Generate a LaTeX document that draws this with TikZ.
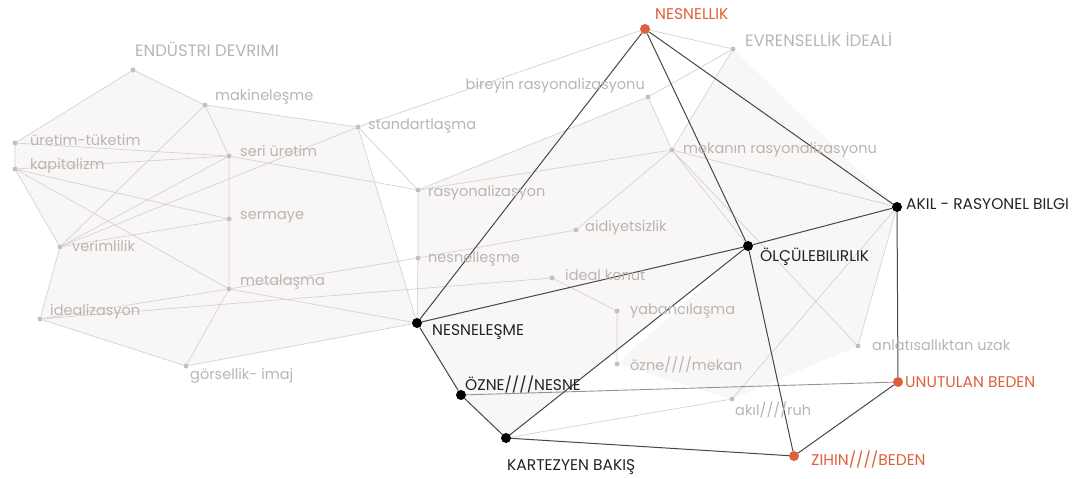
\documentclass[tikz,border=0pt]{standalone}
\usepackage{fontspec}
\setmainfont{Poppins}
\usetikzlibrary{positioning,backgrounds}
\definecolor{lgray}{RGB}{214,210,208}
\definecolor{dgray}{RGB}{196,192,190}
\definecolor{tgray}{RGB}{186,181,179}
\definecolor{dline}{RGB}{70,70,70}
\definecolor{mline}{RGB}{150,148,147}
\definecolor{rust}{RGB}{222,96,58}
\definecolor{dtext}{RGB}{35,35,35}
\definecolor{haze}{RGB}{248,247,246}
\begin{document}
\begin{tikzpicture}[x=1pt,y=-1pt,
  gdot/.style={circle,fill=dgray,inner sep=0pt,minimum size=5pt},
  bdot/.style={circle,fill=black,inner sep=0pt,minimum size=10pt},
  rdot/.style={circle,fill=rust,inner sep=0pt,minimum size=10pt},
  faint/.style={draw=lgray,line width=0.7pt},
  strong/.style={draw=dline,line width=1pt},
  gtext/.style={text=tgray,inner sep=0pt,anchor=west,font=\fontsize{14.5}{14.5}\selectfont},
  gcaps/.style={gtext,font=\fontsize{16.5}{16.5}\selectfont},
  btext/.style={text=dtext,inner sep=0pt,anchor=west,font=\fontsize{15.5}{15.5}\selectfont},
  rtext/.style={btext,text=rust}]
\useasboundingbox (0,0) rectangle (1082,479);
% gray net, left
\node[gdot] (end) at (133,70) {};
\node[gdot] (mak) at (205,105) {};
\node[gdot] (uret) at (15,143) {};
\node[gdot] (kap) at (15,169) {};
\node[gdot] (seri) at (229,156) {};
\node[gdot] (std) at (358,127) {};
\node[gdot] (serm) at (229,219) {};
\node[gdot] (ver) at (60,247) {};
\node[gdot] (meta) at (229,289) {};
\node[gdot] (ideal) at (40,319) {};
\node[gdot] (gors) at (186,366) {};
% gray net, middle and right
\node[gdot] (rasy) at (418,190) {};
\node[gdot] (nesl) at (418,258) {};
\node[gdot] (bir) at (648,97) {};
\node[gdot] (mek) at (672,150) {};
\node[gdot] (aid) at (576,230) {};
\node[gdot] (konut) at (552,278) {};
\node[gdot] (yab) at (617,311) {};
\node[gdot] (ozm) at (617,364) {};
\node[gdot] (ruh) at (732,399) {};
\node[gdot] (anl) at (858,346) {};
\node[gdot] (evr) at (733,49) {};
% main nodes
\node[rdot] (nsk) at (645,29) {};
\node[bdot] (akil) at (897,207) {};
\node[bdot] (olcu) at (748,246) {};
\node[bdot] (nes) at (417,323) {};
\node[bdot] (ozn) at (461,395) {};
\node[bdot] (kart) at (506,438) {};
\node[rdot] (unut) at (898,382) {};
\node[rdot] (zih) at (794,456) {};

% faint fills
\begin{scope}[on background layer]
\fill[haze] (uret.center) -- (end.center) -- (mak.center) -- (std.center) -- (nes.center)
  -- (gors.center) -- (ideal.center) -- (ver.center) -- (kap.center) -- cycle;
\fill[haze] (rasy.center) -- (bir.center) -- (mek.center) -- (olcu.center) -- (kart.center)
  -- (ozn.center) -- (nes.center) -- cycle;
\fill[haze] (evr.center) -- (akil.center) -- (anl.center) -- (ruh.center) -- (ozm.center)
  -- (olcu.center) -- (mek.center) -- cycle;
\end{scope}

% gray connectors
\draw[faint] (end) -- (uret) (end) -- (mak) (mak) -- (seri) (mak) -- (std) (mak) -- (ver)
  (uret) -- (kap) (uret) -- (seri) (kap) -- (seri) (kap) -- (serm) (kap) -- (ver) (kap) -- (meta)
  (seri) -- (serm) (serm) -- (meta) (seri) -- (ver) (serm) -- (ver) (seri) -- (rasy)
  (std) -- (rasy) (std) -- (nes) (std) -- (nsk) (std) -- (ver)
  (ver) -- (ideal) (ideal) -- (gors) (ideal) -- (meta) (ideal) -- (konut)
  (meta) -- (gors) (meta) -- (nes) (meta) -- (nesl) (gors) -- (nes)
  (rasy) -- (nesl) (nesl) -- (nes) (rasy) -- (bir) (rasy) -- (mek)
  (nsk) -- (evr) (bir) -- (evr) (bir) -- (mek) (mek) -- (evr)
  (mek) -- (aid) (mek) -- (olcu) (mek) -- (akil) (mek) -- (anl)
  (aid) -- (nesl) (konut) -- (yab) (yab) -- (ozm)
  (kart) -- (ruh) (ruh) -- (akil) (akil) -- (anl);
\draw[draw=mline,line width=0.9pt] (ozn) -- (unut);

% dark connectors
\draw[strong] (nsk) -- (nes) (nsk) -- (olcu) (nsk) -- (akil)
  (akil) -- (olcu) (akil) -- (unut) (olcu) -- (nes) (olcu) -- (kart) (olcu) -- (zih)
  (nes) -- (ozn) (ozn) -- (kart) (kart) -- (zih) (zih) -- (unut);

% labels
\node[gcaps] (endL) at (135,49) {ENDÜSTRI DEVRIMI};
\node[gtext] (makL) at (215,97) {makineleşme};
\node[gtext] (uretL) at (30,140) {üretim-tüketim};
\node[gtext] (kapL) at (30,166) {kapitalizm};
\node[gtext] (seriL) at (240,151) {seri üretim};
\node[gtext] (stdL) at (368,126) {standartlaşma};
\node[gtext] (sermL) at (240,217) {sermaye};
\node[gtext] (verL) at (72,246) {verimlilik};
\node[gtext] (metaL) at (240,282) {metalaşma};
\node[gtext] (idealL) at (50,312) {idealizasyon};
\node[gtext] (gorsL) at (190,376) {görsellik- imaj};
\node[gtext] (rasyL) at (428,193) {rasyonalizasyon};
\node[gtext] (neslL) at (428,259) {nesnelleşme};
\node[gtext,anchor=east] (birL) at (645,86) {bireyin rasyonalizasyonu};
\node[gtext] (mekL) at (683,150) {mekanın rasyonalizasyonu};
\node[gtext] (aidL) at (585,228) {aidiyetsizlik};
\node[gtext] (konutL) at (565,275) {ideal konut};
\node[gtext] (yabL) at (630,311) {yabancılaşma};
\node[gtext] (ozmL) at (630,365) {özne////mekan};
\node[gtext] (ruhL) at (735,410) {akıl////ruh};
\node[gtext] (anlL) at (872,345) {anlatısallıktan uzak};
\node[gcaps] (evrL) at (745,39) {EVRENSELLİK İDEALİ};
\node[rtext] (nskL) at (655,14) {NESNELLIK};
\node[btext] (akilL) at (906,204) {AKIL - RASYONEL BILGI};
\node[btext] (olcuL) at (760,257) {ÖLÇÜLEBILIRLIK};
\node[btext] (nesL) at (432,332) {NESNELEŞME};
\node[btext] (oznL) at (465,385) {ÖZNE////NESNE};
\node[btext] (kartL) at (507,467) {KARTEZYEN BAKIŞ};
\node[rtext] (unutL) at (905,382) {UNUTULAN BEDEN};
\node[rtext] (zihL) at (811,460) {ZIHIN////BEDEN};
\end{tikzpicture}
\end{document}
